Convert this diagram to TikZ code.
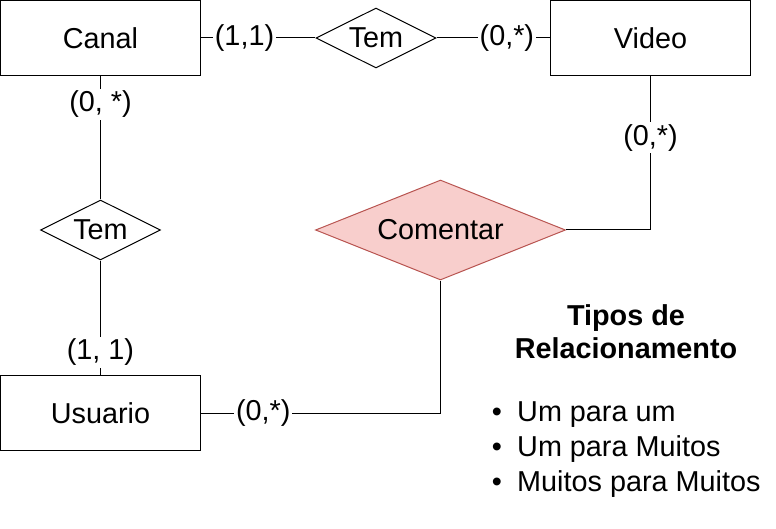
\documentclass[tikz,border=0pt]{standalone}
\usepackage{fontspec}
\setmainfont{Liberation Sans}
\usetikzlibrary{shapes.geometric}
\definecolor{cfill}{HTML}{F8CECC}
\definecolor{cdraw}{HTML}{B85450}
\begin{document}
\begin{tikzpicture}[x=1pt,y=-1pt,
  txt/.style={font=\fontsize{28.8}{34.5}\selectfont},
  entity/.style={txt, draw, line width=1pt, minimum width=200pt, minimum height=75pt, inner sep=0pt},
  rel/.style={txt, draw, diamond, line width=1pt, minimum width=120pt, minimum height=60pt, inner sep=0pt, aspect=2},
  conn/.style={line width=1pt},
  lbl/.style={txt, fill=white, inner sep=2pt},
  legend/.style={txt, inner sep=0pt},
  bold/.style={font=\fontsize{28.8}{34.5}\selectfont\bfseries, inner sep=0pt}]
\useasboundingbox (0,0) rectangle (776,529);
% entities
\node[entity] (canal) at (100.5,38) {Canal};
\node[entity] (video) at (650.5,38) {Video};
\node[entity] (usuario) at (100.5,413) {Usuario};
% relationships
\node[rel] (tem1) at (376,38) {Tem};
\node[rel] (tem2) at (100.5,230) {Tem};
\node[rel, fill=cfill, draw=cdraw, minimum width=250pt, minimum height=100pt, aspect=2.5] (com) at (440.5,230) {Comentar};
% connectors
\draw[conn] (canal) -- node[lbl,pos=0.38]{(1,1)} (tem1);
\draw[conn] (tem1) -- node[lbl,pos=0.62]{(0,*)} (video);
\draw[conn] (video) |- node[lbl,pos=0.2]{(0,*)} (com);
\draw[conn] (canal) -- node[lbl,pos=0.23]{(0, *)} (tem2);
\draw[conn] (tem2) -- node[lbl,pos=0.8]{(1, 1)} (usuario);
\draw[conn] (usuario) -| node[lbl,pos=0.13]{(0,*)} (com);
% legend
\node[bold, anchor=base] (t1) at (626,325) {Tipos de};
\node[bold, anchor=base] (t2) at (626,358.3) {Relacionamento};
\node[legend, anchor=base] (d1) at (497,421.7) {•};
\node[legend, anchor=base west] (l1) at (517,421.7) {Um para um};
\node[legend, anchor=base] (d2) at (497,456.7) {•};
\node[legend, anchor=base west] (l2) at (517,456.7) {Um para Muitos};
\node[legend, anchor=base] (d3) at (497,491.7) {•};
\node[legend, anchor=base west] (l3) at (517,491.7) {Muitos para Muitos};
\end{tikzpicture}
\end{document}
